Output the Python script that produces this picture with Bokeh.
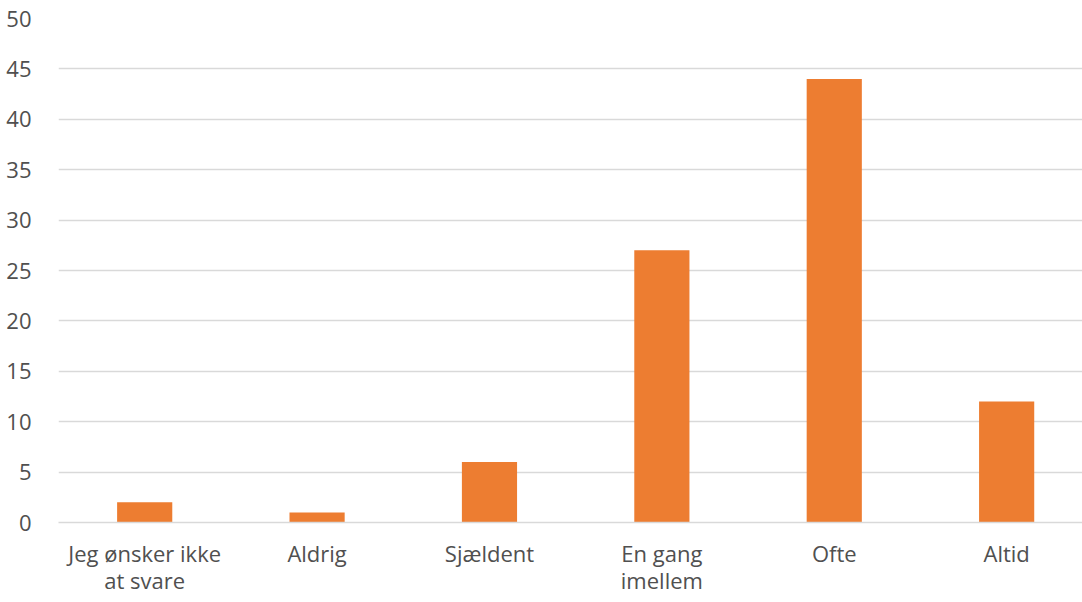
from bokeh.plotting import figure
from bokeh.models import Range1d, FixedTicker, ColumnDataSource
from bokeh.embed import file_html
from bokeh.resources import INLINE

categories = ["Jeg ønsker ikke\nat svare", "Aldrig", "Sjældent", "En gang\nimellem", "Ofte", "Altid"]
values = [2, 1, 6, 27, 44, 12]
y_ticks = [0, 5, 10, 15, 20, 25, 30, 35, 40, 45, 50]

positions = list(range(len(categories)))
source = ColumnDataSource(data=dict(x=positions, top=values))

p = figure(width=1082, height=602, output_backend="svg", toolbar_location=None,
           x_range=Range1d(-0.5, 5.44), y_range=Range1d(0, 50),
           min_border_left=58, min_border_right=0, min_border_top=18, min_border_bottom=80)

p.vbar(x="x", top="top", width=0.32, bottom=0, source=source,
       fill_color="#ED7D31", line_color=None)

p.outline_line_color = None
p.background_fill_color = "white"
p.border_fill_color = "white"

# grid
p.xgrid.grid_line_color = None
p.ygrid.grid_line_color = "#D9D9D9"
p.ygrid.grid_line_width = 1.5
p.yaxis.ticker = FixedTicker(ticks=y_ticks)
p.xaxis.ticker = FixedTicker(ticks=positions)
p.xaxis.major_label_overrides = {i: c for i, c in enumerate(categories)}

for ax in (p.xaxis[0], p.yaxis[0]):
    ax.major_tick_line_color = None
    ax.minor_tick_line_color = None
    ax.major_label_text_font = "Open Sans"
    ax.major_label_text_font_size = "22px"
    ax.major_label_text_color = "#505050"

p.yaxis.axis_line_color = None
p.yaxis.major_label_standoff = 21
p.xaxis.axis_line_color = "#D9D9D9"
p.xaxis.axis_line_width = 1.5
p.xaxis.major_label_standoff = 9
p.xaxis.major_label_text_line_height = 0.92

open("out.html", "w").write(file_html(p, INLINE))
